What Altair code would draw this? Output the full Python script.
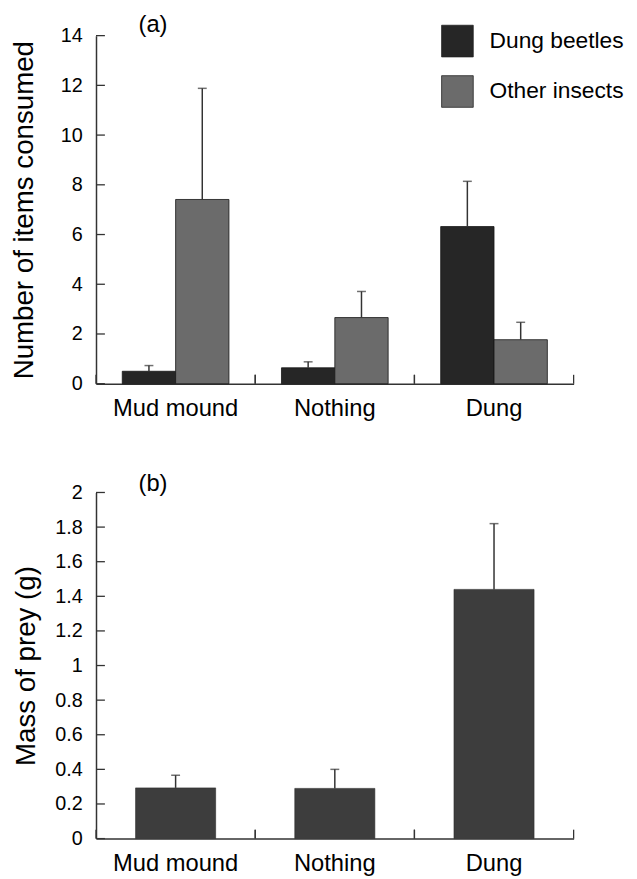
import altair as alt
import pandas as pd

# ---- data ----
categories = ["Mud mound", "Nothing", "Dung"]
series = ["Dung beetles", "Other insects"]
beetle_mean = [0.50, 0.64, 6.32]
beetle_se = [0.23, 0.24, 1.82]
other_mean = [7.41, 2.66, 1.77]
other_se = [4.47, 1.05, 0.70]
mass_mean = [0.293, 0.29, 1.44]
mass_se = [0.073, 0.11, 0.38]
ticks_a = [0, 2, 4, 6, 8, 10, 12, 14]
ticks_b = [0, 0.2, 0.4, 0.6, 0.8, 1, 1.2, 1.4, 1.6, 1.8, 2]

colors_a = ["#262626", "#6b6b6b"]
color_b = "#3d3d3d"
FONT = "Liberation Sans"
AXC = "#333333"
W = 483
HA = 352
HB = 350
PAD_A = 0.33      # inner band padding, panel a
PAD_B = 0.497     # inner band padding, panel b
STEP = W / 3.0

rows_a = []
for i, c in enumerate(categories):
    rows_a.append(dict(cat=c, series=series[0], mean=beetle_mean[i],
                       upper=beetle_mean[i] + beetle_se[i]))
    rows_a.append(dict(cat=c, series=series[1], mean=other_mean[i],
                       upper=other_mean[i] + other_se[i]))
df_a = pd.DataFrame(rows_a)
df_b = pd.DataFrame(dict(cat=categories, mean=mass_mean,
                         upper=[m + s for m, s in zip(mass_mean, mass_se)]))
df_cats = pd.DataFrame(dict(cat=categories))

X_AXIS = alt.Axis(labelAngle=0, labelFontSize=24, labelPadding=13, ticks=False,
                  domainColor=AXC, domainWidth=1.5, labelColor="black",
                  labelFont=FONT, title=None)


def y_axis(vals, title_pad):
    return alt.Axis(values=vals, ticks=False, labelPadding=14,
                    labelFontSize=20, labelColor="black", labelFont=FONT,
                    labelOverlap=False, format="~g",
                    domainColor=AXC, domainWidth=1.5, titleFontSize=28,
                    titleFontWeight="normal", titleColor="black", titleFont=FONT,
                    titlePadding=title_pad, grid=False)


def make_panel(df, y_title, y_dom, ticks, title_pad, pad, h, bar_enc,
               bar_mark, offset_enc, label, title_offset):
    xsc = alt.Scale(paddingInner=pad, paddingOuter=pad / 2)
    ysc = alt.Scale(domain=y_dom, nice=False)
    yax = y_axis(ticks, title_pad)

    def X(**kw):
        return alt.X("cat:N", sort=categories, title=None, scale=xsc,
                     axis=X_AXIS, **kw)

    def Y(field):
        return alt.Y(field, title=y_title, scale=ysc, axis=yax)

    extra = {} if offset_enc is None else {"xOffset": offset_enc}
    bars = alt.Chart(df).mark_bar(**bar_mark).encode(
        x=X(), y=Y("mean:Q"), **extra, **bar_enc)
    err = alt.Chart(df).mark_rule(color=AXC, strokeWidth=1.5).encode(
        x=X(), y=Y("mean:Q"), y2="upper:Q", **extra)
    cap = alt.Chart(df).mark_tick(orient="horizontal", size=9, thickness=1.5,
                                  color=AXC).encode(
        x=X(), y=Y("upper:Q"), **extra)
    ytk = alt.Chart(pd.DataFrame(dict(t=ticks))).mark_rule(
        color=AXC, strokeWidth=1.3).encode(
        y=Y("t:Q"), x=alt.value(0), x2=alt.value(9))
    half = pad * STEP / 2.0
    s0 = alt.Chart(df_cats).mark_rule(color=AXC, strokeWidth=1.3,
                                      xOffset=-half).encode(
        x=X(bandPosition=0), y=alt.value(h), y2=alt.value(h - 9))
    s1 = alt.Chart(df_cats).mark_rule(color=AXC, strokeWidth=1.3,
                                      xOffset=half).encode(
        x=X(bandPosition=1), y=alt.value(h), y2=alt.value(h - 9))
    return alt.layer(bars, err, cap, ytk, s0, s1).properties(
        width=W, height=h,
        title=alt.TitleParams(label, anchor="start", frame="group", dx=43,
                              fontSize=24, fontWeight="normal", font=FONT,
                              color="black", offset=title_offset),
    )


xoff = alt.XOffset("series:N", sort=series,
                   scale=alt.Scale(paddingInner=0, paddingOuter=0))
legend_a = alt.Legend(title=None, orient="none", legendX=349, legendY=-11,
                      symbolType="square", symbolSize=1024,
                      symbolStrokeWidth=0.8, symbolStrokeColor="#222",
                      labelFontSize=23, labelFont=FONT, labelColor="black",
                      labelOffset=16, rowPadding=14, padding=0)

panel_a = make_panel(
    df_a, "Number of items consumed", [0, 14], ticks_a, 22, PAD_A, HA,
    dict(color=alt.Color("series:N", sort=series,
                         scale=alt.Scale(domain=series, range=colors_a),
                         legend=legend_a)),
    dict(stroke="#151515", strokeWidth=0.8), xoff, "(a)", -11)

panel_b = make_panel(
    df_b, "Mass of prey (g)", [0, 2], ticks_b, 14, PAD_B, HB,
    {}, dict(color=color_b, stroke="#2a2a2a", strokeWidth=0.6), None,
    "(b)", -13)

chart = alt.vconcat(panel_a, panel_b, spacing=52).configure(
    font=FONT, padding={"left": 2, "top": 0, "right": 5, "bottom": 5},
    view=alt.ViewConfig(stroke=None)
)

chart.save("out.html", embed_options={"renderer": "svg", "actions": False})
